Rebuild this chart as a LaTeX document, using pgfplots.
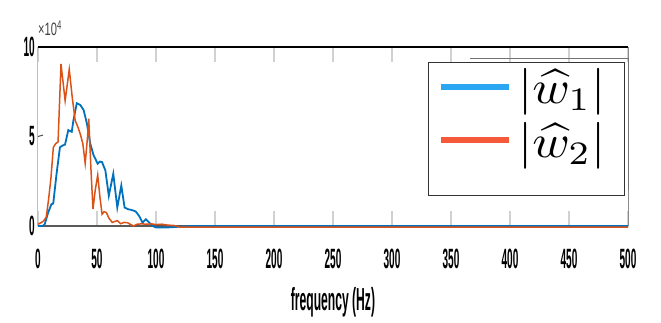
\documentclass[border=0pt]{standalone}
\usepackage{graphicx}
\usepackage{fontspec}
\setmainfont{Liberation Sans}
\newfontfamily\cond[FakeStretch=0.36]{Liberation Sans}
\newfontfamily\condl[FakeStretch=0.38]{Liberation Sans}
\newfontfamily\condm[FakeStretch=0.62]{Liberation Sans}
\usepackage{pgfplots}
\pgfplotsset{compat=1.18}
\definecolor{mblue}{HTML}{0072BD}
\definecolor{morange}{HTML}{D95319}
\definecolor{lblue}{HTML}{2AA6F2}
\definecolor{lorange}{HTML}{F45A3A}
\begin{document}
\begin{tikzpicture}
\useasboundingbox (-38bp,-97bp) rectangle (623bp,226bp);
\begin{axis}[
  at={(0,0)}, anchor=south west,
  scale only axis, width=590bp, height=179bp,
  xmin=0, xmax=500, ymin=0, ymax=10,
  xtick={0,50,...,500}, ytick={0,5,10},
  axis line style={draw=none},
  tick align=inside,
  xtick pos=both, ytick pos=left,
  major tick length=15bp,
  xtick style={draw=black!18, line width=1.2bp},
  ytick style={draw=none},
  /pgf/number format/assume math mode=true,
  ticklabel style={font=\cond\bfseries\fontsize{28}{28}\selectfont, inner sep=0pt},
  xticklabel style={yshift=-23bp},
  yticklabel style={xshift=-3bp},
  xlabel={frequency (Hz)},
  xlabel style={at={(axis description cs:0.5,0)}, anchor=north, yshift=-61bp, inner sep=0pt, font=\condl\bfseries\fontsize{32}{32}\selectfont},
  clip=false,
  legend image code/.code={\draw[#1] (0bp,0bp) -- (68bp,0bp);},
  legend style={at={(rel axis cs:0.995,0.916)}, anchor=north east, draw=black!80, line width=1bp,
    inner xsep=10bp, inner ysep=6bp, row sep=17bp,
    nodes={inner sep=0bp}, column sep=6bp},
  legend cell align=left,
]
% frame
\draw[black!25, line width=1bp] (rel axis cs:0,0) -- (rel axis cs:0,1);
\draw[black!45, line width=1bp] (rel axis cs:1,0) -- (rel axis cs:1,1);
\draw[black, line width=1.2bp] (rel axis cs:0,1) -- (rel axis cs:1,1);
\draw[black!65, line width=1.5bp] (rel axis cs:0,0) -- (rel axis cs:1,0);
\draw[black!70, line width=1bp] (axis cs:0,5) -- ++(5bp,0);
\draw[black!55, line width=1bp] (rel axis cs:0.732,0.933) -- (rel axis cs:1,0.933) -- (rel axis cs:1,0.201);
\node[anchor=south west, inner sep=0pt, text=black!75, font=\condm\fontsize{18}{18}\selectfont] at ([yshift=11bp]rel axis cs:0,1) {×10\textsuperscript{4}};
\addlegendimage{lblue, line width=6bp}
\addlegendentry{\scalebox{5.1}[4.7]{$\left|\widehat{w}_1\right|$}\hspace*{9bp}}
\addlegendimage{lorange, line width=6bp}
\addlegendentry{\scalebox{5.1}[4.7]{$\left|\widehat{w}_2\right|$}\hspace*{9bp}}
\addlegendimage{empty legend}
\addlegendentry{\rule{0pt}{12bp}}
\addplot[mblue, line width=1.8bp, forget plot] coordinates {
(0,0) (4,0) (5.7,0.1) (8.6,0.75) (11.4,1.22) (12.9,1.25) (15.7,2.9) (18.6,4.4) (21,4.5) (22.9,4.55)
(25.7,5.36) (28.6,5.26) (30,5.9) (32.9,6.86) (35.7,6.77) (38.6,6.49) (41.4,5.74) (44.3,4.6) (47.1,3.95)
(50.6,3.48) (52.5,3.6) (54.3,3.57) (57.1,3.1) (60,1.69) (63.8,2.92) (67.2,1.03) (70.6,2.26) (73.4,1.03)
(76.3,0.94) (79,0.9) (81.4,0.85) (83,0.8) (85.7,0.56) (88.6,0.19) (91.4,0.38) (94.3,0.19) (97,0)
(100,-0.08) (110,-0.08) (120,-0.04) (130,0) (500,0)
};
\addplot[morange, line width=1.5bp, forget plot] coordinates {
(0,0.1) (3,0.2) (5,0.3) (7,0.5) (9,1.5) (11,2.7) (13,4.4) (15,4.6) (17,4.7) (19.5,9.05) (23,7.0)
(26.5,8.75) (29,7.2) (31.5,5.9) (34,5.5) (36,5.1) (38,4.6) (40,3.5) (42,5.0) (43,6.0) (45,3.0)
(46.6,0.95) (48.5,2.0) (50.6,2.85) (52.5,1.6) (54.3,0.66) (56,0.8) (58,0.75) (60,0.45) (62.9,0.2)
(65,0.25) (67.2,0.3) (70,0.13) (73,0.2) (76,0.18) (78,0.1) (81,0) (84,0.1) (88,0.12) (92,0.1)
(96,0.12) (100,0.08) (105,0.1) (110,0.05) (115,0.03) (120,-0.06) (500,-0.06)
};
\end{axis}
\end{tikzpicture}
\end{document}
